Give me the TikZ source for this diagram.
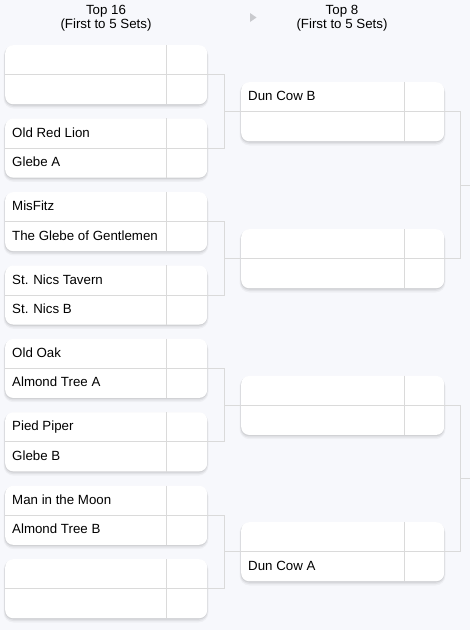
\documentclass[tikz,border=0pt]{standalone}
\usepackage{fontspec}
\setmainfont{Liberation Sans}
\usetikzlibrary{calc}
\definecolor{bg}{HTML}{F7F8FC}
\definecolor{rule}{HTML}{DADADA}
\definecolor{tri}{HTML}{C9CACE}
\tikzset{
  matchbox/.style={fill=white, draw=none, rounded corners=8pt, minimum height=59pt,
    inner sep=0pt, anchor=north west},
  shade1/.style={fill=black, opacity=0.035, rounded corners=10pt},
  shade2/.style={fill=black, opacity=0.05, rounded corners=9pt},
  shade3/.style={fill=black, opacity=0.07, rounded corners=8.5pt},
  innerrule/.style={draw=rule, line width=0.8pt},
  conn/.style={draw=rule, line width=0.8pt},
  team/.style={anchor=west, inner sep=0pt, font=\fontsize{13.3}{14}\selectfont},
  head/.style={align=center, inner sep=0pt, font=\fontsize{13.3}{14.5}\selectfont}
}
\newcommand{\bracketbox}[7]{%
  \fill[shade1] (#2-1.5,#3+0.5) rectangle (#2+#4+1.5,#3+59+4.5);
  \fill[shade2] (#2-0.8,#3+1) rectangle (#2+#4+0.8,#3+59+3);
  \fill[shade3] (#2-0.3,#3+1) rectangle (#2+#4+0.3,#3+59+1.5);
  \node[matchbox, minimum width=#4pt] (#1) at (#2,#3) {};
  \draw[innerrule] (#1.west) -- (#1.east);
  \draw[innerrule] ([xshift=#5pt]#1.north west) -- ([xshift=#5pt]#1.south west);
  \node[team] (#1a) at ($(#1.north west)+(7,16)$) {\strut #6};
  \node[team] (#1b) at ($(#1.north west)+(7,45.3)$) {\strut #7};
}
\begin{document}
\begin{tikzpicture}[x=1pt,y=-1pt]
\path[use as bounding box, fill=bg] (0,0) rectangle (470,630);

% headers
\node[head] (h16) at (106,18) {Top 16\\(First to 5 Sets)};
\node[head] (h8) at (342,18) {Top 8\\(First to 5 Sets)};
\fill[tri] (250,13) -- (256.5,17.5) -- (250,22) -- cycle;

% round 1
\bracketbox{ra}{5}{45}{202}{161}{}{}
\bracketbox{rb}{5}{118.4}{202}{161}{Old Red Lion}{Glebe A}
\bracketbox{rc}{5}{191.9}{202}{161}{MisFitz}{The Glebe of Gentlemen}
\bracketbox{rd}{5}{265.3}{202}{161}{St. Nics Tavern}{St. Nics B}
\bracketbox{re}{5}{338.7}{202}{161}{Old Oak}{Almond Tree A}
\bracketbox{rf}{5}{412.1}{202}{161}{Pied Piper}{Glebe B}
\bracketbox{rg}{5}{485.6}{202}{161}{Man in the Moon}{Almond Tree B}
\bracketbox{rh}{5}{559}{202}{161}{}{}

% round 2
\bracketbox{sa}{241}{82}{203}{163}{Dun Cow B}{}
\bracketbox{sb}{241}{229}{203}{163}{}{}
\bracketbox{sc}{241}{375.7}{203}{163}{}{}
\bracketbox{sd}{241}{522}{203}{163}{}{Dun Cow A}

% connectors round 1 -> round 2
\foreach \p/\q/\t in {ra/rb/sa, rc/rd/sb, re/rf/sc, rg/rh/sd}{
  \draw[conn] (\p.east) -- ++(17,0) coordinate (j\t) |- (\q.east);
  \draw[conn] (\t.west) -- (\t.west -| j\t);
}

% connectors round 2 -> onward
\coordinate (f1) at (470,185);
\coordinate (f2) at (470,478.5);
\draw[conn] (sa.east) -- ++(16,0) coordinate (k1) |- (sb.east);
\draw[conn] (f1 -| k1) -- (f1);
\draw[conn] (sc.east) -- ++(16,0) coordinate (k2) |- (sd.east);
\draw[conn] (f2 -| k2) -- (f2);
\end{tikzpicture}
\end{document}
